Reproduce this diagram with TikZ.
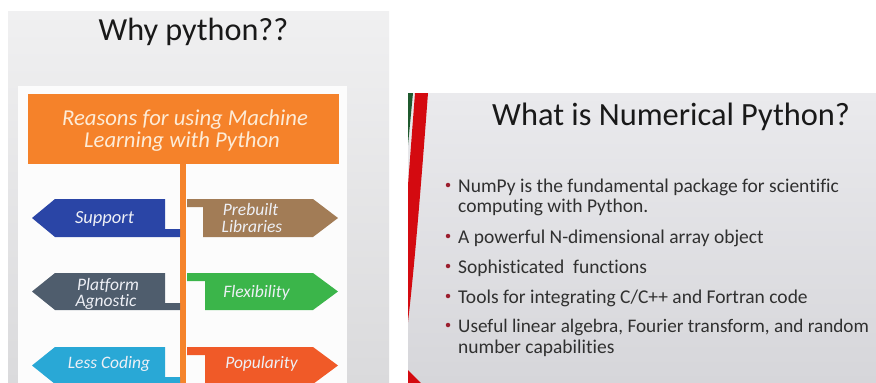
\documentclass[tikz,border=0pt]{standalone}
\usepackage{fontspec}
\setmainfont{Carlito}[Ligatures=CommonOff]
\definecolor{bannerorange}{HTML}{F5822A}
\definecolor{lineorange}{HTML}{F5842C}
\definecolor{supportblue}{HTML}{2A45A6}
\definecolor{prebuiltbrown}{HTML}{A27C56}
\definecolor{platformslate}{HTML}{4F5D6D}
\definecolor{flexgreen}{HTML}{3BB54A}
\definecolor{lesscyan}{HTML}{29A8D6}
\definecolor{popred}{HTML}{F05A28}
\definecolor{bannertext}{HTML}{FDEBD6}
\definecolor{labeltext}{HTML}{EEF0F6}
\definecolor{slidetext}{HTML}{303030}
\definecolor{bulletred}{HTML}{9B1E2E}
\definecolor{stripered}{HTML}{D40A10}
\definecolor{stripegreen}{HTML}{1F5A2E}
\tikzset{
  armlabel/.style={font=\fontsize{17.5}{17}\selectfont\itshape, text=labeltext, inner sep=0pt, anchor=base},
  bannerline/.style={font=\fontsize{22.7}{22}\selectfont\itshape, text=bannertext, inner sep=0pt, anchor=base},
  bullettext/.style={font=\fontsize{19.5}{20.5}\selectfont, text=slidetext, inner sep=0pt, anchor=base west},
  bulletdot/.style={circle, fill=bulletred, inner sep=0pt, minimum size=4.5pt},
}
\begin{document}
\begin{tikzpicture}[x=1pt,y=-1pt]
\useasboundingbox (0,0) rectangle (876,383);
\fill[white] (0,0) rectangle (876,383);
% left slide
\shade[top color={rgb,255:red,240;green,240;blue,241}, bottom color={rgb,255:red,218;green,218;blue,220}] (8,11) rectangle (389,383);
\fill[white!98!gray] (18,86) rectangle (347,383);
\node[font=\fontsize{32.2}{36}\selectfont, text={rgb,255:red,25;green,25;blue,25}, anchor=base, inner sep=0pt] (whytitle) at (193.5,40) {Why python??};
\fill[bannerorange] (28,94) rectangle (339,164);
\node[bannerline] (banner1) at (185,125) {Reasons for using Machine};
\node[bannerline] (banner2) at (182,147) {Learning with Python};
\coordinate (stemtop) at (183,164);
\coordinate (stembottom) at (183,383);
\draw[lineorange, line width=6pt] (stemtop) -- (stembottom);
% left arrows
\fill[supportblue] (32,218) -- (55,199) -- (165,199) -- (165,229) -- (180,229) -- (180,237) -- (55,237) -- cycle;
\fill[platformslate] (32,291.5) -- (55,273) -- (165,273) -- (165,303) -- (180,303) -- (180,310) -- (55,310) -- cycle;
\fill[lesscyan] (32,365.5) -- (55,347) -- (165,347) -- (165,377) -- (180,377) -- (180,384) -- (55,384) -- cycle;
% right arrows
\fill[prebuiltbrown] (187,199) -- (313,199) -- (338,218) -- (313,237) -- (203,237) -- (203,207) -- (187,207) -- cycle;
\fill[flexgreen] (187,273) -- (313,273) -- (338,291.5) -- (313,310) -- (205,310) -- (205,281) -- (187,281) -- cycle;
\fill[popred] (187,347) -- (313,347) -- (338,365.5) -- (313,384) -- (205,384) -- (205,355) -- (187,355) -- cycle;
\node[armlabel, font=\fontsize{18.5}{17}\selectfont\itshape] (support) at (104.5,223) {Support};
\node[armlabel] (prebuilt1) at (250.5,215) {Prebuilt};
\node[armlabel] (prebuilt2) at (252,232) {Libraries};
\node[armlabel] (platform1) at (108,290) {Platform};
\node[armlabel] (platform2) at (106,306) {Agnostic};
\node[armlabel] (flex) at (256.5,297) {Flexibility};
\node[armlabel] (less) at (109,368) {Less Coding};
\node[armlabel] (pop) at (261.5,368) {Popularity};
% right slide
\shade[top color={rgb,255:red,234;green,234;blue,237}, bottom color={rgb,255:red,214;green,214;blue,218}] (408,93) rectangle (876,383);
\fill[stripegreen] (408,93) -- (413,93) -- (408,145) -- cycle;
\fill[stripered] (415,93) -- (428,93) .. controls (420,200) and (414,270) .. (408,322) -- (408,185) -- cycle;
\fill[stripered] (408,370) -- (421,383) -- (408,383) -- cycle;
\node[font=\fontsize{32.4}{40}\selectfont, text={rgb,255:red,25;green,25;blue,25}, anchor=base west, inner sep=0pt] (numtitle) at (492,125) {What is Numerical Python?};
\node[bullettext] (b1a) at (458,192) {NumPy is the fundamental package for scientific};
\node[bullettext] (b1b) at (458,212) {computing with Python.};
\node[bullettext] (b2) at (458,243) {A powerful N-dimensional array object};
\node[bullettext] (b3) at (458,273) {Sophisticated\ \ functions};
\node[bullettext] (b4) at (458,303) {Tools for integrating C/C++ and Fortran code};
\node[bullettext, font=\fontsize{19.2}{20}\selectfont] (b5a) at (458,332) {Useful linear algebra, Fourier transform, and random};
\node[bullettext] (b5b) at (458,353) {number capabilities};
\node[bulletdot] (d1) at (448,185) {};
\node[bulletdot] (d2) at (448,236) {};
\node[bulletdot] (d3) at (448,266) {};
\node[bulletdot] (d4) at (448,296) {};
\node[bulletdot] (d5) at (448,325) {};
\end{tikzpicture}
\end{document}
